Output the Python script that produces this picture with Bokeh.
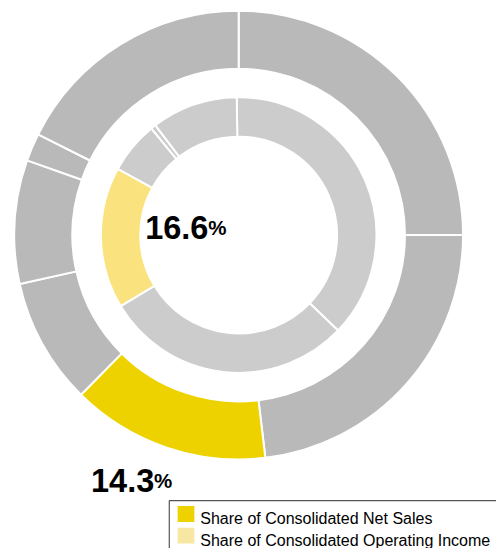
import numpy as np
from bokeh.plotting import figure
from bokeh.models import Range1d
from bokeh.embed import file_html
from bokeh.resources import INLINE
from bokeh.core.properties import value

# ---- data (shares in %, clockwise from 12 o'clock) ----
outer_share = [25.0, 23.1, 14.3, 9.1, 8.9, 2.0, 17.6]
outer_colors = ["#b9b9b9", "#b9b9b9", "#edd200", "#b9b9b9", "#b9b9b9", "#b9b9b9", "#b9b9b9"]
inner_share = [37.4, 29.2, 16.6, 6.1, 0.6, 10.1]
inner_colors = ["#cccccc", "#cccccc", "#fae37e", "#cccccc", "#cccccc", "#cccccc"]
highlight_outer = 2
highlight_inner = 2
legend_labels = ["Share of Consolidated Net Sales", "Share of Consolidated Operating Income"]
legend_colors = ["#edd200", "#f8e6a3"]

PAGE_W, PAGE_H = 504, 556


def py(y):
    return PAGE_H - y


p = figure(width=496, height=548, x_range=Range1d(0, PAGE_W), y_range=Range1d(0, PAGE_H),
           output_backend="svg", toolbar_location=None, min_border=0)
p.axis.visible = False
p.grid.visible = False
p.outline_line_color = None
p.background_fill_color = "white"

cx, cy = 242, py(238)


def ring(shares, colors, r0, r1, offset):
    cum = np.concatenate([[0.0], np.cumsum(shares)]) / np.sum(shares) * 360.0 + offset
    start = np.deg2rad(90.0 - cum[:-1])
    end = np.deg2rad(90.0 - cum[1:])
    p.annular_wedge(x=cx, y=cy, inner_radius=r0, outer_radius=r1,
                    start_angle=start, end_angle=end, direction="clock",
                    fill_color=colors, line_color="white", line_width=2)


ring(outer_share, outer_colors, 169, 228, 0.0)
ring(inner_share, inner_colors, 100, 140, -0.8)

big_font = value("Liberation Sans")


def pct_label(val, x, y):
    p.text(x=[x], y=[py(y)], text=[f"{val:.1f}"], text_font=big_font, text_font_style="bold",
           text_font_size="32.5px", text_color="black", text_align="left", text_baseline="alphabetic")
    p.text(x=[x + 64], y=[py(y)], text=["%"], text_font=big_font, text_font_style="bold",
           text_font_size="20.5px", text_color="black", text_align="left", text_baseline="alphabetic")


pct_label(inner_share[highlight_inner], 147, 230)
pct_label(outer_share[highlight_outer], 92, 487)

# legend
p.quad(left=[171.5], right=[530], top=[py(507.5)], bottom=[py(580)],
       fill_color=None, line_color="#555555", line_width=1.2)
for i, (lab, col) in enumerate(zip(legend_labels, legend_colors)):
    top = 513 + 22 * i
    p.quad(left=[180], right=[197], top=[py(top)], bottom=[py(top + 16)],
           fill_color=col, line_color=None)
    p.text(x=[203], y=[py(top + 12.5)], text=[lab], text_font=value("Liberation Sans"),
           text_font_size="16px", text_color="black", text_align="left", text_baseline="alphabetic")

open("out.html", "w").write(file_html(p, INLINE))
